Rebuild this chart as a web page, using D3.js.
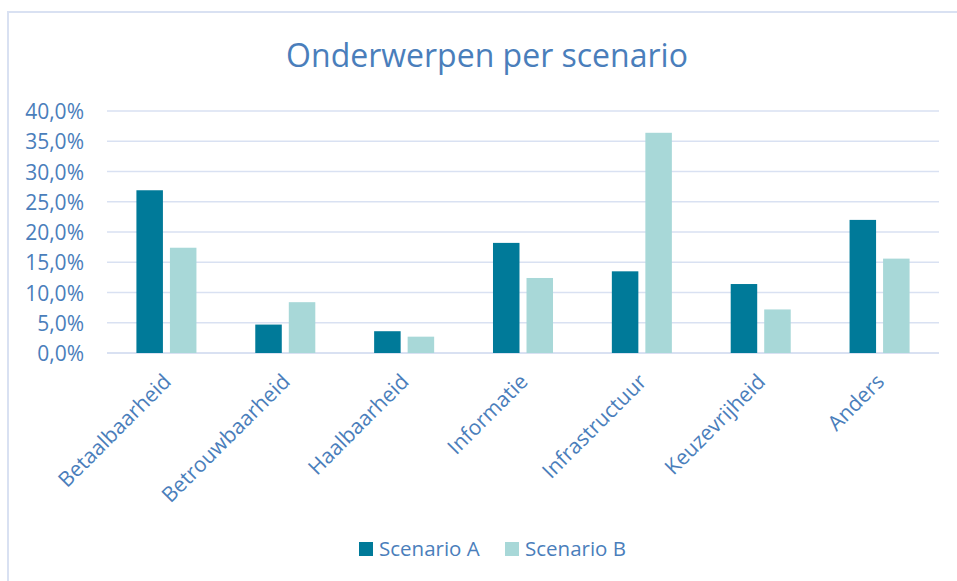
<!DOCTYPE html>
<html><head><meta charset="utf-8">
<script src="https://cdn.jsdelivr.net/npm/d3@7"></script>
<style>body{margin:0;background:#fff}svg{display:block}</style>
</head><body>
<script>
const categories = ["Betaalbaarheid","Betrouwbaarheid","Haalbaarheid","Informatie","Infrastructuur","Keuzevrijheid","Anders"];
const seriesNames = ["Scenario A","Scenario B"];
const scenarioA = [26.9, 4.7, 3.6, 18.2, 13.5, 11.4, 22.0];
const scenarioB = [17.4, 8.4, 2.7, 12.4, 36.4, 7.2, 15.6];
const yTicks = [0,5,10,15,20,25,30,35,40];
const title = "Onderwerpen per scenario";

const W = 957, H = 581;
const font = "'Open Sans', sans-serif";
const textColor = "#4A7EBB";
const colors = ["#007A99", "#A8D8D8"];
const gridColor = "#D9E1F2";

const svg = d3.select("body").append("svg").attr("width", W).attr("height", H);

// chart border
svg.append("rect").attr("x", 8).attr("y", 12).attr("width", W + 10).attr("height", H + 10)
  .attr("fill", "none").attr("stroke", gridColor).attr("stroke-width", 2);

svg.append("text").attr("x", 487).attr("y", 67).attr("text-anchor", "middle")
  .attr("font-family", font).attr("font-size", 32).attr("fill", textColor).text(title);

const x0 = d3.scaleBand().domain(categories).range([107, 939]).paddingInner(0).paddingOuter(0);
const y = d3.scaleLinear().domain([0, 40]).range([353, 111]);

const data = categories.map((c, i) => ({cat: c, vals: [scenarioA[i], scenarioB[i]]}));

// gridlines
svg.append("g").selectAll("line").data(yTicks).join("line")
  .attr("x1", 107).attr("x2", 939)
  .attr("y1", d => y(d)).attr("y2", d => y(d))
  .attr("stroke", gridColor).attr("stroke-width", d => d === 0 ? 2 : 1.5);

// y axis labels
const fmt = d => d.toFixed(1).replace(".", ",") + "%";
const yAxis = d3.axisLeft(y).tickValues(yTicks).tickFormat(fmt).tickSize(0).tickPadding(0);
const gy = svg.append("g").attr("transform", "translate(84,0)").call(yAxis);
gy.select(".domain").remove();
gy.selectAll("text").attr("font-family", font).attr("font-size", 21).attr("fill", textColor).attr("dy", "0.36em");

// bars
const bw = x0.bandwidth();
const barW = bw * 0.223, gap = bw * 0.059;
const x1 = d3.scaleBand().domain([0, 1]).range([0, barW * 2 + gap]).paddingInner(gap / (barW + gap));
const g = svg.append("g").selectAll("g").data(data).join("g")
  .attr("transform", d => `translate(${x0(d.cat) + bw / 2 - (barW * 2 + gap) / 2},0)`);
g.selectAll("rect").data(d => d.vals.map((v, k) => ({v, k}))).join("rect")
  .attr("x", d => x1(d.k)).attr("width", x1.bandwidth())
  .attr("y", d => y(d.v)).attr("height", d => y(0) - y(d.v))
  .attr("fill", d => colors[d.k]);

// x axis labels
const xAxis = d3.axisBottom(x0).tickSize(0).tickPadding(0);
const gx = svg.append("g").attr("transform", "translate(0,353)").call(xAxis);
gx.select(".domain").remove();
gx.selectAll("text").attr("font-family", font).attr("font-size", 21).attr("fill", textColor)
  .attr("text-anchor", "end").attr("dy", null).attr("y", null)
  .attr("transform", "translate(6,30) rotate(-45)");

// legend
const leg = svg.append("g").attr("transform", "translate(359,542)");
const items = leg.selectAll("g").data(seriesNames).join("g")
  .attr("transform", (d, i) => `translate(${i * 146},0)`);
items.append("rect").attr("width", 14).attr("height", 14).attr("fill", (d, i) => colors[i]);
items.append("text").attr("x", 20).attr("y", 14).attr("font-family", font).attr("font-size", 20.5)
  .attr("fill", textColor).text(d => d);
</script>
</body></html>
